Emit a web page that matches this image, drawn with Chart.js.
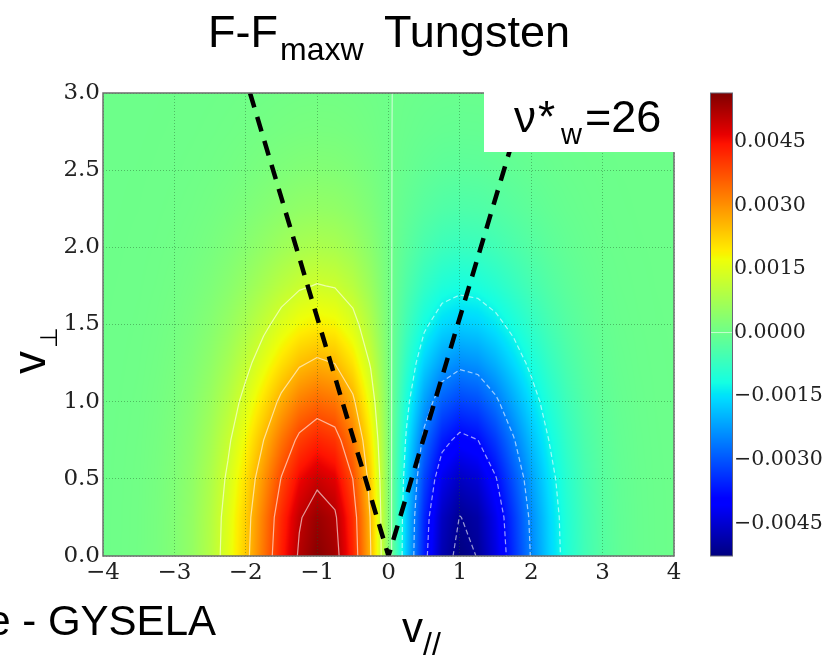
<!DOCTYPE html>
<html>
<head>
<meta charset="utf-8">
<title>F-F maxw Tungsten</title>
<script src="https://cdn.jsdelivr.net/npm/chart.js@4.4.1/dist/chart.umd.min.js"></script>
<style>
  html, body { margin: 0; padding: 0; background: #fff; }
  #wrap { width: 832px; height: 655px; }
</style>
</head>
<body>
<div id="wrap"><canvas id="myChart" width="832" height="655"></canvas></div>
<script>
// velocity grid: v_par along x, v_perp along y
const v_par = [-4, -3.75, -3.5, -3.25, -3, -2.75, -2.5, -2.25, -2, -1.75, -1.5, -1.25, -1, -0.75, -0.5, -0.25,
               0, 0.25, 0.5, 0.75, 1, 1.25, 1.5, 1.75, 2, 2.25, 2.5, 2.75, 3, 3.25, 3.5, 3.75, 4];
const v_perp = [0, 0.25, 0.5, 0.75, 1, 1.25, 1.5, 1.75, 2, 2.25, 2.5, 2.75, 3];

// F - F_maxw along v_perp = 0 (units of 1e-4)
const f_bottom = [0.1, 0.3, 0.6, 1.4, 2.8, 5.2, 9.3, 15.3, 23.4, 33.2, 43.3, 51.7, 55.7, 53.2, 42.9, 25.6,
                  3.7, -17.8, -36.0, -47.9, -52.6, -50.6, -43.7, -34.4, -24.9, -16.7, -10.4, -6.0, -3.2, -1.6, -0.75, -0.33, -0.14];
// fall-off with v_perp, relative to v_perp = 0, for the positive and negative lobe
const decay_pos = [1, 0.971, 0.888, 0.765, 0.621, 0.475, 0.343, 0.233, 0.149, 0.090, 0.051, 0.027, 0.014];
const decay_neg = [1, 0.969, 0.883, 0.755, 0.607, 0.458, 0.325, 0.216, 0.135, 0.080, 0.044, 0.023, 0.011];

// contour levels and colour range (units of 1e-4)
const contour_levels = [-50.8, -38.1, -25.4, -12.7, 0, 12.7, 25.4, 38.1, 50.8];
const color_min = -52.7;
const color_max = 56.5;
const colorbar_ticks = [-45, -30, -15, 0, 15, 30, 45];

// dashed cone
const cone_par = [-1.94, 0, 1.94];
const cone_perp = [3, 0, 3];

// table of cells [v_perp index][v_par index]
const field = v_perp.map(function(vp, j){
    return f_bottom.map(function(f){
        return f * (f >= 0 ? decay_pos[j] : decay_neg[j]);
    });
});

// matplotlib jet
const jet_r = [[0,0],[0.35,0],[0.66,1],[0.89,1],[1,0.5]];
const jet_g = [[0,0],[0.125,0],[0.375,1],[0.64,1],[0.91,0],[1,0]];
const jet_b = [[0,0.5],[0.11,1],[0.34,1],[0.65,0],[1,0]];
function piece(p, t){
    for (let k = 1; k < p.length; k++){
        if (t <= p[k][0]){
            const a = p[k-1], b = p[k];
            return a[1] + (b[1] - a[1]) * (t - a[0]) / (b[0] - a[0]);
        }
    }
    return p[p.length-1][1];
}
function jet(v){
    let t = (v - color_min) / (color_max - color_min);
    t = Math.min(1, Math.max(0, t));
    return [piece(jet_r, t) * 255, piece(jet_g, t) * 255, piece(jet_b, t) * 255].map(Math.round);
}

function locate(arr, v){
    if (v <= arr[0]) return [0, 0];
    if (v >= arr[arr.length-1]) return [arr.length-2, 1];
    let i = 0;
    while (arr[i+1] < v) i++;
    return [i, (v - arr[i]) / (arr[i+1] - arr[i])];
}

function trace_contours(level){
    const nx = v_par.length, ny = v_perp.length;
    const pts = {};
    const segs = [];
    function edge_point(key, xa, ya, va, xb, yb, vb){
        if (!pts[key]){
            const t = (level - va) / (vb - va);
            pts[key] = {x: xa + (xb - xa) * t, y: ya + (yb - ya) * t};
        }
        return key;
    }
    for (let j = 0; j < ny - 1; j++){
        for (let i = 0; i < nx - 1; i++){
            const v00 = field[j][i], v10 = field[j][i+1], v01 = field[j+1][i], v11 = field[j+1][i+1];
            const cross = [];
            if ((v00 >= level) !== (v10 >= level)) cross.push(edge_point('h'+i+'_'+j, v_par[i], v_perp[j], v00, v_par[i+1], v_perp[j], v10));
            if ((v10 >= level) !== (v11 >= level)) cross.push(edge_point('v'+(i+1)+'_'+j, v_par[i+1], v_perp[j], v10, v_par[i+1], v_perp[j+1], v11));
            if ((v01 >= level) !== (v11 >= level)) cross.push(edge_point('h'+i+'_'+(j+1), v_par[i], v_perp[j+1], v01, v_par[i+1], v_perp[j+1], v11));
            if ((v00 >= level) !== (v01 >= level)) cross.push(edge_point('v'+i+'_'+j, v_par[i], v_perp[j], v00, v_par[i], v_perp[j+1], v01));
            if (cross.length === 2) segs.push(cross);
            else if (cross.length === 4){ segs.push([cross[0], cross[1]]); segs.push([cross[2], cross[3]]); }
        }
    }
    // join the cell segments into polylines
    const by_key = {};
    segs.forEach(function(s, k){
        (by_key[s[0]] = by_key[s[0]] || []).push(k);
        (by_key[s[1]] = by_key[s[1]] || []).push(k);
    });
    const used = segs.map(function(){ return false; });
    function next(key){
        for (const k of by_key[key]){
            if (!used[k]){
                used[k] = true;
                return segs[k][0] === key ? segs[k][1] : segs[k][0];
            }
        }
        return null;
    }
    const lines = [];
    for (let k = 0; k < segs.length; k++){
        if (used[k]) continue;
        used[k] = true;
        const path = [segs[k][0], segs[k][1]];
        let n;
        while ((n = next(path[path.length-1])) !== null) path.push(n);
        while ((n = next(path[0])) !== null) path.unshift(n);
        lines.push(path.map(function(key){ return pts[key]; }));
    }
    return lines;
}

const SANS = '"Liberation Sans", Arial, sans-serif';
const SERIF = '"DejaVu Serif", serif';

const heatmap_plugin = {
    id: 'heatmap',
    beforeDraw(chart){
        const ctx = chart.ctx, area = chart.chartArea;
        const xs = chart.scales.x, ys = chart.scales.y, cb = chart.scales.cb;
        ctx.save();
        ctx.fillStyle = '#fff';
        ctx.fillRect(0, 0, chart.width, chart.height);

        const x0 = Math.floor(area.left), y0 = Math.floor(area.top);
        const w = Math.ceil(area.right) - x0, h = Math.ceil(area.bottom) - y0;
        const off = document.createElement('canvas');
        off.width = w; off.height = h;
        const octx = off.getContext('2d');
        const img = octx.createImageData(w, h);
        const cols = [];
        for (let px = 0; px < w; px++) cols.push(locate(v_par, xs.getValueForPixel(x0 + px + 0.5)));
        for (let py = 0; py < h; py++){
            const r = locate(v_perp, ys.getValueForPixel(y0 + py + 0.5));
            const j = r[0], fy = r[1];
            for (let px = 0; px < w; px++){
                const i = cols[px][0], fx = cols[px][1];
                const v = (field[j][i] * (1 - fx) + field[j][i+1] * fx) * (1 - fy)
                        + (field[j+1][i] * (1 - fx) + field[j+1][i+1] * fx) * fy;
                const c = jet(v);
                const o = (py * w + px) * 4;
                img.data[o] = c[0]; img.data[o+1] = c[1]; img.data[o+2] = c[2]; img.data[o+3] = 255;
            }
        }
        octx.putImageData(img, 0, 0);
        ctx.drawImage(off, x0, y0);

        // colorbar
        const cb_left = area.right + 36, cb_w = 23;
        for (let py = Math.floor(cb.top); py < Math.ceil(cb.bottom); py++){
            const c = jet(cb.getValueForPixel(py + 0.5));
            ctx.fillStyle = 'rgb(' + c[0] + ',' + c[1] + ',' + c[2] + ')';
            ctx.fillRect(cb_left, py, cb_w, 1);
        }
        ctx.strokeStyle = 'rgba(255,255,255,0.6)';
        ctx.lineWidth = 1;
        const zy = cb.getPixelForValue(0);
        ctx.beginPath(); ctx.moveTo(cb_left, zy); ctx.lineTo(cb_left + cb_w, zy); ctx.stroke();
        ctx.strokeStyle = '#667';
        ctx.strokeRect(cb_left + 0.5, cb.top, cb_w - 1, cb.bottom - cb.top);
        ctx.restore();
    },
    beforeDatasetsDraw(chart){
        const ctx = chart.ctx, area = chart.chartArea;
        const xs = chart.scales.x, ys = chart.scales.y;
        ctx.save();
        ctx.beginPath();
        ctx.rect(area.left, area.top, area.right - area.left, area.bottom - area.top);
        ctx.clip();
        ctx.lineWidth = 1.2;
        ctx.lineJoin = 'round';
        ctx.strokeStyle = 'rgba(255,255,255,0.6)';
        contour_levels.forEach(function(level){
            ctx.setLineDash(level < 0 ? [5, 3] : []);
            trace_contours(level).forEach(function(line){
                ctx.beginPath();
                line.forEach(function(p, k){
                    const px = xs.getPixelForValue(p.x), py = ys.getPixelForValue(p.y);
                    if (k) ctx.lineTo(px, py); else ctx.moveTo(px, py);
                });
                ctx.stroke();
            });
        });
        ctx.restore();
    },
    afterDatasetsDraw(chart){
        const ctx = chart.ctx, area = chart.chartArea;
        ctx.save();
        ctx.strokeStyle = '#6d6d6d';
        ctx.lineWidth = 1.5;
        ctx.strokeRect(area.left, area.top, area.right - area.left, area.bottom - area.top);
        ctx.restore();
    },
    afterDraw(chart){
        const ctx = chart.ctx;
        ctx.save();
        ctx.fillStyle = '#000';
        ctx.textBaseline = 'alphabetic';

        // title
        ctx.font = '45px ' + SANS;
        ctx.textAlign = 'right';
        ctx.fillText('F-F', 278, 47);
        ctx.textAlign = 'left';
        ctx.font = '32px ' + SANS;
        ctx.fillText('maxw', 280, 60);
        ctx.font = '45px ' + SANS;
        ctx.fillText('Tungsten', 384, 47);

        // collisionality box
        ctx.fillStyle = '#fff';
        ctx.fillRect(484, 60, 192, 92);
        ctx.fillStyle = '#000';
        ctx.font = '44px ' + SANS;
        ctx.fillText('\u03bd', 514, 132);
        ctx.fillText('*', 538, 132);
        ctx.font = '29px ' + SANS;
        ctx.fillText('w', 561, 144);
        ctx.font = '45px ' + SANS;
        ctx.fillText('=26', 585, 132);

        // axis titles
        ctx.save();
        ctx.translate(45, 374);
        ctx.rotate(-Math.PI / 2);
        ctx.font = '46px ' + SANS;
        ctx.fillText('v', 0, 0);
        ctx.font = '24px "DejaVu Sans", sans-serif';
        ctx.fillText('\u22a5', 26, 12);
        ctx.restore();

        ctx.font = '42px ' + SANS;
        ctx.fillText('v', 402, 642);
        ctx.font = '32px ' + SANS;
        ctx.fillText('//', 423, 655);

        ctx.font = '42px ' + SANS;
        ctx.textAlign = 'right';
        ctx.fillText('e - GYSELA', 216, 635);
        ctx.restore();
    }
};

const ctx = document.getElementById('myChart').getContext('2d');
const myChart = new Chart(ctx, {
    type: 'scatter',
    data: {
        datasets: [{
            data: cone_par.map(function(x, i){ return {x: x, y: cone_perp[i]}; }),
            showLine: true,
            borderColor: '#000',
            borderWidth: 4.5,
            borderDash: [15, 10],
            pointRadius: 0,
            fill: false,
            clip: 0,
            yAxisID: 'y'
        }]
    },
    options: {
        responsive: false,
        animation: false,
        devicePixelRatio: 1,
        events: [],
        layout: { padding: { top: 93, left: 0, right: 0, bottom: 0 } },
        plugins: {
            legend: { display: false },
            tooltip: { enabled: false },
            title: { display: false }
        },
        scales: {
            x: {
                type: 'linear',
                min: -4,
                max: 4,
                afterFit: function(scale){ scale.height = 99; },
                ticks: {
                    stepSize: 1,
                    autoSkip: false,
                    maxRotation: 0,
                    padding: 3,
                    color: '#222',
                    font: { family: SERIF, size: 23 },
                    callback: function(value){ return String(value).replace('-', '\u2212'); }
                },
                grid: { color: 'rgba(30,90,40,0.4)', lineWidth: 1, drawTicks: false },
                border: { display: false, dash: [1, 2] }
            },
            y: {
                type: 'linear',
                min: 0,
                max: 3,
                afterFit: function(scale){ scale.width = 103; },
                ticks: {
                    stepSize: 0.5,
                    autoSkip: false,
                    padding: 3,
                    color: '#222',
                    font: { family: SERIF, size: 23 },
                    callback: function(value){ return value.toFixed(1); }
                },
                grid: { color: 'rgba(30,90,40,0.4)', lineWidth: 1, drawTicks: false },
                border: { display: false, dash: [1, 2] }
            },
            cb: {
                type: 'linear',
                position: 'right',
                min: color_min,
                max: color_max,
                afterFit: function(scale){ scale.width = 158; },
                afterBuildTicks: function(scale){
                    scale.ticks = colorbar_ticks.map(function(v){ return {value: v}; });
                },
                ticks: {
                    autoSkip: false,
                    padding: 60,
                    color: '#222',
                    font: { family: SERIF, size: 20.5 },
                    callback: function(value){ return (value * 1e-4).toFixed(4).replace('-', '\u2212'); }
                },
                grid: { display: false, drawTicks: false },
                border: { display: false }
            }
        }
    },
    plugins: [heatmap_plugin]
});
</script>
</body>
</html>
